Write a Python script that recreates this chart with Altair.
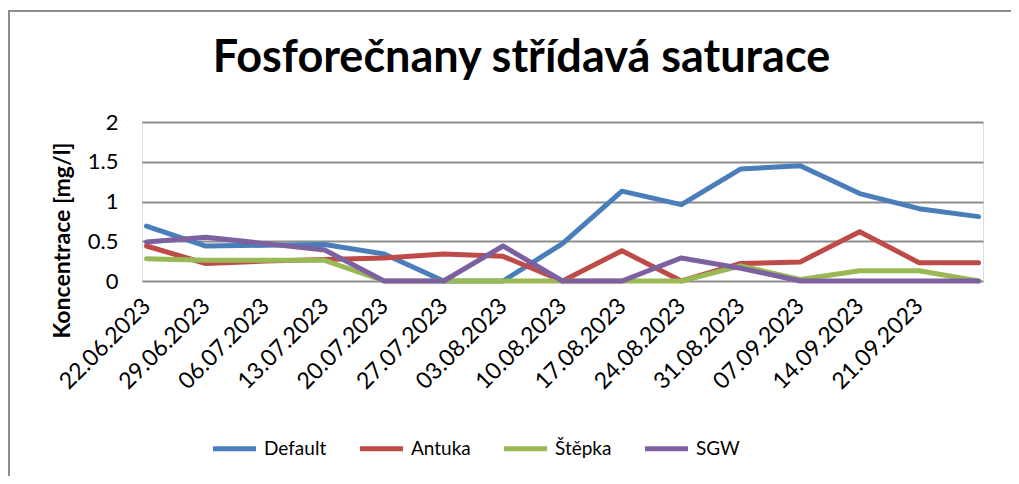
import altair as alt
import pandas as pd

dates = ["22.06.2023", "29.06.2023", "06.07.2023", "13.07.2023", "20.07.2023",
         "27.07.2023", "03.08.2023", "10.08.2023", "17.08.2023", "24.08.2023",
         "31.08.2023", "07.09.2023", "14.09.2023", "21.09.2023", "28.09.2023"]
shown_dates = dates[:14]

series = ["Default", "Antuka", "Štěpka", "SGW"]
default = [0.69, 0.44, 0.45, 0.46, 0.34, 0.0, 0.0, 0.47, 1.13, 0.96, 1.41, 1.45, 1.10, 0.91, 0.81]
antuka = [0.44, 0.22, 0.25, 0.27, 0.29, 0.34, 0.31, 0.0, 0.38, 0.0, 0.22, 0.24, 0.62, 0.23, 0.23]
stepka = [0.28, 0.26, 0.26, 0.26, 0.0, 0.0, 0.0, 0.0, 0.0, 0.0, 0.19, 0.02, 0.13, 0.13, 0.0]
sgw = [0.49, 0.55, 0.47, 0.39, 0.0, 0.0, 0.44, 0.0, 0.0, 0.29, 0.16, 0.0, 0.0, 0.0, 0.0]
colors = ["#4A7EBB", "#BE4B48", "#98B954", "#7D60A0"]

rows = []
for name, vals in zip(series, [default, antuka, stepka, sgw]):
    for d, v in zip(dates, vals):
        rows.append({"datum": d, "serie": name, "hodnota": v})
df = pd.DataFrame(rows)

FONT = "Lato"
GRID = "#8c8c8c"

lines = alt.Chart(df).mark_line(strokeWidth=5, strokeCap="round", strokeJoin="round").encode(
    x=alt.X("datum:O", sort=dates,
            scale=alt.Scale(type="point", padding=0.075),
            axis=alt.Axis(values=shown_dates, title=None, labelAngle=-45,
                          labelAlign="right", labelBaseline="middle",
                          labelFontSize=23, labelFont=FONT, labelColor="black",
                          labelPadding=21, ticks=False, domain=False, grid=False,
                          labelOverlap=False)),
    y=alt.Y("hodnota:Q",
            scale=alt.Scale(domain=[0, 2], nice=False),
            axis=alt.Axis(values=[0, 0.5, 1, 1.5, 2], format=".1~f",
                          title="Koncentrace [mg/l]", titleFont=FONT, titleFontSize=23,
                          titleFontWeight="bold", titleColor="black",
                          titleX=-80, titleY=118, titleAlign="center",
                          titleBaseline="middle", titleAngle=270,
                          labelFontSize=22, labelFont=FONT, labelColor="black",
                          labelPadding=24, ticks=False, domain=False,
                          grid=True, gridColor=GRID, gridWidth=2, gridOpacity=1)),
    color=alt.Color("serie:N", sort=series,
                    scale=alt.Scale(domain=series, range=colors),
                    legend=alt.Legend(title=None, orient="none", direction="horizontal",
                                      legendX=68, legendY=302,
                                      symbolType="stroke", symbolSize=1850,
                                      symbolStrokeWidth=5, labelFont=FONT,
                                      labelFontSize=19, labelColor="black",
                                      labelOffset=5, columnPadding=22)),
)

frame = alt.Chart(pd.DataFrame({"k": [0]})).mark_rect(
    fill="transparent", stroke=GRID, strokeWidth=2
).encode(x=alt.value(-133), x2=alt.value(960), y=alt.value(-111), y2=alt.value(500))

chart = alt.layer(frame, lines).properties(
    width=841, height=159,
    padding={"left": 134, "top": 114, "right": 28, "bottom": 195},
    autosize=alt.AutoSizeParams(type="none"),
    title=alt.TitleParams("Fosforečnany střídavá saturace", font=FONT, fontSize=45,
                          fontWeight="bold", color="black", anchor="middle",
                          dx=-41, offset=-107, baseline="alphabetic"),
).configure_view(stroke=None).configure(background="white")

chart.save("out.html", embed_options={"renderer": "svg", "actions": False})
